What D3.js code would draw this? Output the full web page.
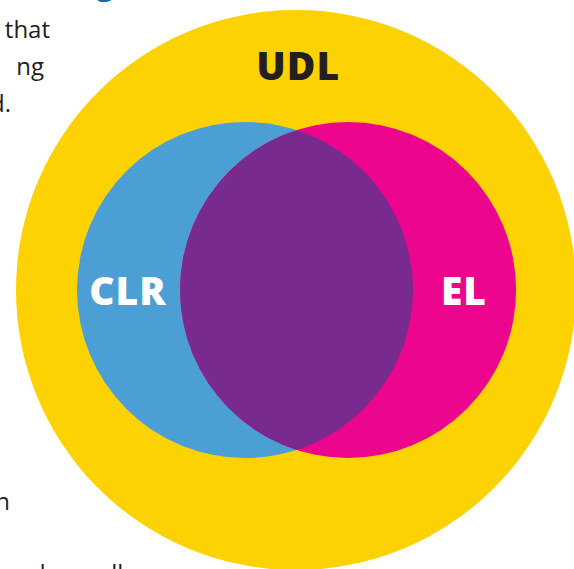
<!DOCTYPE html>
<html>
<head>
<meta charset="utf-8">
<script src="https://cdn.jsdelivr.net/npm/d3@7"></script>
<style>
  html, body { margin: 0; padding: 0; background: #fff; overflow: hidden; }
</style>
</head>
<body>
<div id="venn-container"></div>
<script>
// set names, relative radius and horizontal offset (in units of the big circle)
var sets = ["UDL", "CLR", "EL"];
var setRadius = [1.0, 0.6, 0.6];
var setOffset = [0, -0.182, 0.186];
var setColors = ["#fdd202", "#4c9fd5", "#ec068d"];
var overlapColor = "#792a8f";
var labelColors = ["#231f20", "#ffffff", "#ffffff"];

// cut-off body text around the figure
var sideText = ["that", "ng", "used.", "n", "and use all"];

var outterWidth = 574;
var outterHeight = 569;

var svg = d3.select("div#venn-container").append("svg")
  .attr("width", outterWidth)
  .attr("height", outterHeight)
  .attr("viewBox", "0 0 " + outterWidth + " " + outterHeight);

// one unit = big circle radius
var x = d3.scaleLinear().domain([-1, 1]).range([16, 576]);
var y = d3.scaleLinear().domain([-1, 1]).range([10, 570]);
var r = d3.scaleLinear().domain([0, 1]).range([0, 280]);

var circles = sets.map(function (name, i) {
  return { name: name, r: setRadius[i], cx: setOffset[i], color: setColors[i], label: labelColors[i] };
});

var defs = svg.append("defs");
defs.append("clipPath").attr("id", "clipCLR")
  .append("circle")
  .attr("cx", x(circles[1].cx))
  .attr("cy", y(0))
  .attr("r", r(circles[1].r));

var g = svg.append("g");

g.selectAll("circle.set")
  .data(circles)
  .enter().append("circle")
  .attr("class", "set")
  .attr("cx", function (d) { return x(d.cx); })
  .attr("cy", y(0))
  .attr("r", function (d) { return r(d.r); })
  .style("fill", function (d) { return d.color; });

// overlap of CLR and EL
g.append("circle")
  .attr("class", "overlap")
  .attr("clip-path", "url(#clipCLR)")
  .attr("cx", x(circles[2].cx))
  .attr("cy", y(0))
  .attr("r", r(circles[2].r))
  .style("fill", overlapColor);

// labels
var labelPos = [
  { x: 0.008, y: -0.75 },
  { x: -0.6, y: 0.053 },
  { x: 0.6, y: 0.053 }
];

g.selectAll("text.set-label")
  .data(circles)
  .enter().append("text")
  .attr("class", "set-label")
  .attr("x", function (d, i) { return x(labelPos[i].x); })
  .attr("y", function (d, i) { return y(labelPos[i].y); })
  .attr("text-anchor", "middle")
  .attr("font-family", "'Open Sans', sans-serif")
  .attr("font-weight", 800)
  .attr("font-size", "39px")
  .attr("letter-spacing", "1px")
  .attr("fill", function (d) { return d.label; })
  .text(function (d) { return d.name; });

// text of the page, mostly hidden by the crop
var sidePos = [
  { x: 50, y: 38, anchor: "end" },
  { x: 44, y: 75, anchor: "end" },
  { x: 11, y: 112, anchor: "end" },
  { x: 10, y: 510, anchor: "end" },
  { x: 3, y: 582, anchor: "start" }
];

svg.selectAll("text.side")
  .data(sideText)
  .enter().append("text")
  .attr("class", "side")
  .attr("x", function (d, i) { return sidePos[i].x; })
  .attr("y", function (d, i) { return sidePos[i].y; })
  .attr("text-anchor", function (d, i) { return sidePos[i].anchor; })
  .attr("font-family", "'Open Sans', sans-serif")
  .attr("font-size", "24px")
  .attr("fill", "#231f20")
  .text(function (d) { return d; });

// bit of the blue heading above
svg.append("text")
  .attr("x", 96).attr("y", -6)
  .attr("font-family", "'Open Sans', sans-serif")
  .attr("font-weight", 700)
  .attr("font-size", "32px")
  .attr("fill", "#0a6eb4")
  .text("g");
</script>
</body>
</html>
